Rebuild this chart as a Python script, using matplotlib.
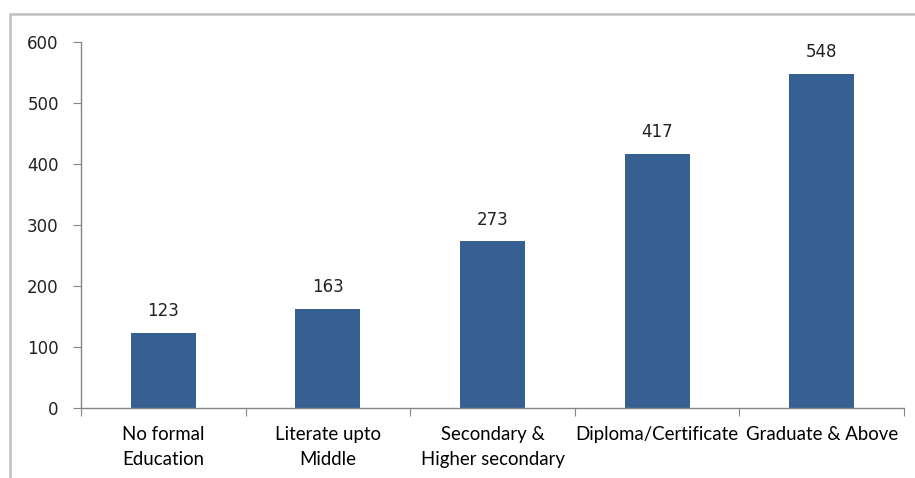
import matplotlib
matplotlib.use("Agg")
import matplotlib.pyplot as plt
from matplotlib.patches import Rectangle

# education level vs count
categories = ["No formal\nEducation", "Literate upto\nMiddle", "Secondary &\nHigher secondary",
              "Diploma/Certificate", "Graduate & Above"]
values = [123, 163, 273, 417, 548]
yticks = [0, 100, 200, 300, 400, 500, 600]

bar_color = "#376092"
axis_color = "#868686"

fig = plt.figure(figsize=(9.15, 4.78), dpi=100)
ax = fig.add_axes([81 / 915, 1 - 408 / 478, (904 - 81) / 915, (408 - 42) / 478])

# light grey chart border
fig.patches.append(Rectangle((9.5 / 915, -0.05), 1.0, 1 - 14 / 478 + 0.05,
                             transform=fig.transFigure, fill=False,
                             edgecolor="#C0C0C0", linewidth=1.8))

x = list(range(len(values)))
bars = ax.bar(x, values, width=0.395, color=bar_color)

for xi, v in zip(x, values):
    ax.annotate(str(v), (xi, v), xytext=(0, 9), textcoords="offset points",
                ha="center", va="bottom", fontsize=12, color="#222222",
                family="DejaVu Sans")

ax.set_xlim(-0.5, len(values) - 0.5)
ax.set_ylim(0, 600)
ax.set_yticks(yticks)
ax.set_yticklabels([str(t) for t in yticks], fontsize=12, family="DejaVu Sans", color="#222222")

# category ticks sit between bars, labels centred on bars
ax.set_xticks([i - 0.5 for i in range(len(values) + 1)])
ax.set_xticklabels([])
ax.set_xticks(x, minor=True)
ax.set_xticklabels(categories, minor=True, fontsize=13.4, family="Lato",
                   va="top", linespacing=1.55)
ax.tick_params(axis="x", which="minor", length=0, pad=13)
ax.tick_params(axis="x", which="major", length=6, color=axis_color, direction="out")
ax.tick_params(axis="y", length=6, color=axis_color, direction="out", pad=10)

for side in ["top", "right"]:
    ax.spines[side].set_visible(False)
for side in ["left", "bottom"]:
    ax.spines[side].set_color(axis_color)
    ax.spines[side].set_linewidth(1.0)

fig.savefig("out.png", dpi=100)
